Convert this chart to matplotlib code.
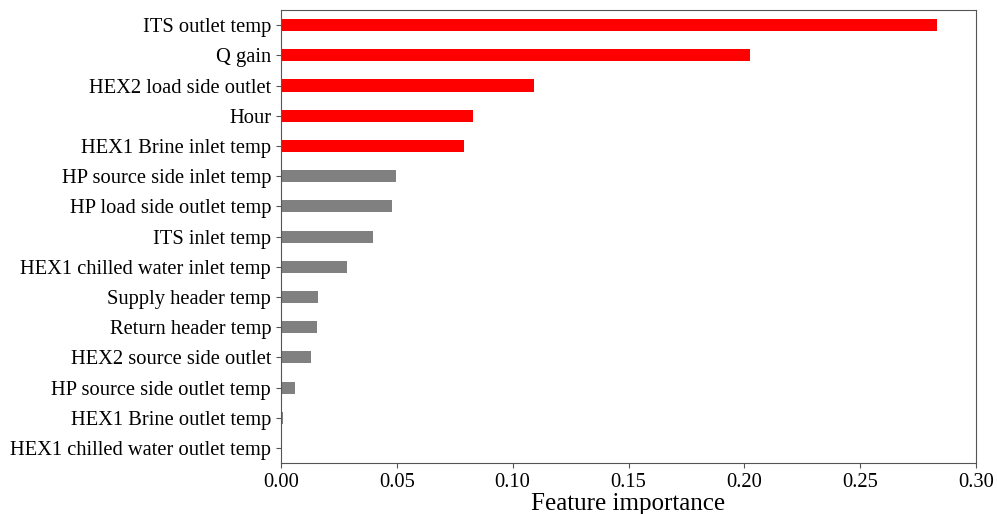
import matplotlib
matplotlib.use("Agg")
import matplotlib.pyplot as plt

features = [
    "ITS outlet temp", "Q gain", "HEX2 load side outlet", "Hour",
    "HEX1 Brine inlet temp", "HP source side inlet temp", "HP load side outlet temp",
    "ITS inlet temp", "HEX1 chilled water inlet temp", "Supply header temp",
    "Return header temp", "HEX2 source side outlet", "HP source side outlet temp",
    "HEX1 Brine outlet temp", "HEX1 chilled water outlet temp",
]
importance = [0.283, 0.2025, 0.1093, 0.0827, 0.0791, 0.0496, 0.0481, 0.0398,
              0.0283, 0.0162, 0.0155, 0.0128, 0.0059, 0.0007, 0.0003]
top_n = 5
colors = ["#ff0000" if i < top_n else "#808080" for i in range(len(features))]
xticks = [0.00, 0.05, 0.10, 0.15, 0.20, 0.25, 0.30]

plt.rcParams["font.family"] = ["Liberation Serif", "DejaVu Serif"]

fig = plt.figure(figsize=(9.97, 5.14), dpi=100)
ax = fig.add_axes([0.2818, 0.099, 0.979 - 0.2818, 0.9805 - 0.099])
ypos = list(range(len(features)))
ax.barh(ypos, importance, height=0.4, color=colors)
ax.set_yticks(ypos)
ax.set_yticklabels(features, fontsize=14.8)
ax.set_ylim(len(features) - 0.5, -0.5)
ax.set_xlim(0, 0.30)
ax.set_xticks(xticks)
ax.set_xticklabels([f"{t:.2f}" for t in xticks], fontsize=14.8)
ax.set_xlabel("Feature importance", fontsize=18, labelpad=1)
for s in ax.spines.values():
    s.set_color("#555555")
ax.tick_params(colors="#555555", labelcolor="black")
fig.savefig("out.png", dpi=100)
